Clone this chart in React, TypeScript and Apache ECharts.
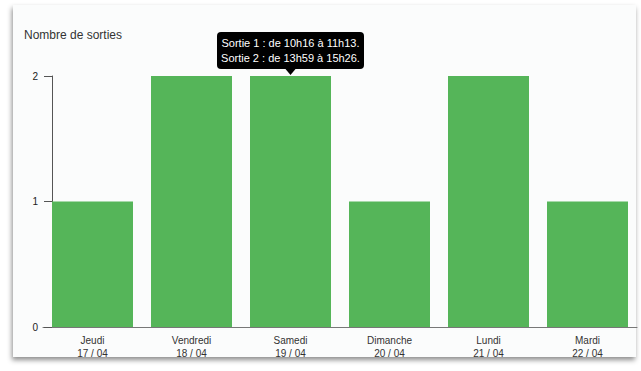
import React, { useEffect, useRef } from "react";
import * as echarts from "echarts";

const days = ["Jeudi", "Vendredi", "Samedi", "Dimanche", "Lundi", "Mardi"];
const dates = ["17 / 04", "18 / 04", "19 / 04", "20 / 04", "21 / 04", "22 / 04"];
const sorties = [1, 2, 2, 1, 2, 1];
const yTicks = [0, 1, 2];
const tooltipIndex = 2;
const tooltipLines = ["Sortie 1 : de 10h16 à 11h13.", "Sortie 2 : de 13h59 à 15h26."];
const titleText = "Nombre de sorties";

export default function App() {
  const ref = useRef<HTMLDivElement>(null);
  useEffect(() => {
    if (!ref.current) return;
    const chart = echarts.init(ref.current, undefined, { renderer: "svg" });
    const font = "'Liberation Sans', Arial, Helvetica, sans-serif";
    chart.setOption({
      animation: false,
      textStyle: { fontFamily: font },
      title: {
        text: titleText,
        left: 19,
        top: 24,
        textStyle: { fontSize: 12, fontWeight: "normal", color: "#333", fontFamily: font },
      },
      grid: { left: 43, right: 4, top: 76, bottom: 44 },
      xAxis: {
        type: "category",
        data: days.map((d, i) => d + "\n" + dates[i]),
        axisLine: { lineStyle: { color: "#777", width: 1 } },
        axisTick: { show: false },
        axisLabel: { color: "#333", fontSize: 10, lineHeight: 13, margin: 7, fontFamily: font },
      },
      yAxis: {
        type: "value",
        min: yTicks[0],
        max: yTicks[yTicks.length - 1],
        interval: 1,
        offset: -9,
        axisLine: { show: true, lineStyle: { color: "#555", width: 1 } },
        axisTick: { show: true, length: 8, lineStyle: { color: "#555" } },
        axisLabel: { color: "#222", fontSize: 10, margin: 14, fontFamily: font },
        splitLine: { show: false },
      },
      series: [
        {
          type: "bar",
          data: sorties,
          barWidth: 81,
          itemStyle: { color: "#55b559" },
        },
      ],
    });
    const [px, py] = chart.convertToPixel({ seriesIndex: 0 }, [tooltipIndex, sorties[tooltipIndex]]) as number[];
    const w = 147;
    const h = 37;
    const tipY = py - 1;
    const boxBottom = tipY - 6;
    const boxTop = boxBottom - h;
    chart.setOption({
      graphic: [
        {
          type: "group",
          z: 100,
          children: [
            {
              type: "rect",
              shape: { x: px - w / 2, y: boxTop, width: w, height: h, r: 4 },
              style: { fill: "#000" },
            },
            {
              type: "polygon",
              shape: { points: [[px - 5, boxBottom], [px + 5, boxBottom], [px, tipY]] },
              style: { fill: "#000" },
            },
            {
              type: "text",
              x: px,
              y: boxTop + 11,
              style: {
                text: tooltipLines[0],
                fill: "#fff",
                fontSize: 11,
                fontFamily: font,
                align: "center",
                verticalAlign: "middle",
              },
            },
            {
              type: "text",
              x: px,
              y: boxTop + 26,
              style: {
                text: tooltipLines[1],
                fill: "#fff",
                fontSize: 11,
                fontFamily: font,
                align: "center",
                verticalAlign: "middle",
              },
            },
          ],
        },
      ],
    });
    return () => chart.dispose();
  }, []);
  return (
    <div style={{ position: "fixed", left: 0, top: 0, width: 641, height: 371, background: "#fff" }}>
      <div
        style={{
          position: "absolute",
          left: 13,
          top: 5,
          width: 623,
          height: 352,
          background: "#fbfcfc",
          boxShadow: "-1px 3px 5px rgba(0,0,0,0.45)",
        }}
      />
      <div ref={ref} style={{ position: "absolute", left: 0, top: 0, width: 641, height: 371 }} />
    </div>
  );
}
